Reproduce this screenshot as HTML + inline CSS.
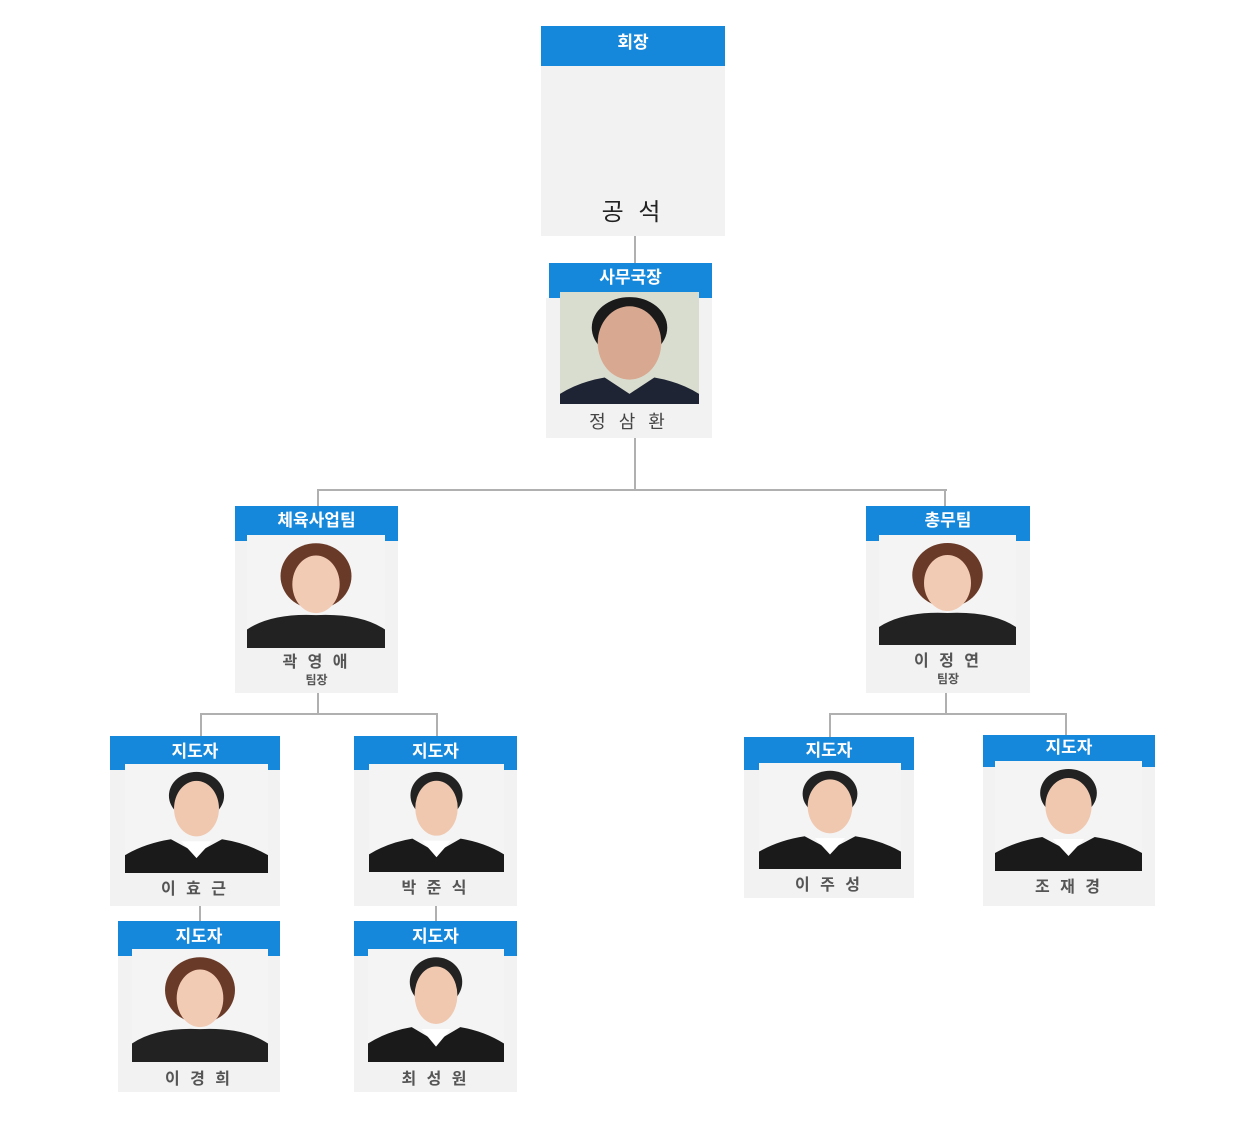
<!DOCTYPE html>
<html><head><meta charset="utf-8"><style>
body{margin:0;width:1258px;height:1125px;background:#fff;position:relative;overflow:hidden;font-family:"Liberation Sans","Noto Sans CJK KR",sans-serif}
.a{position:absolute;line-height:1}
.box{position:absolute;background:#f2f2f2}
.hd{position:absolute;background:#1588dc;color:#fff;font-weight:bold;font-size:17px;line-height:1;text-align:center;box-sizing:border-box;padding-top:7px}
.ln{position:absolute;background:#b0b0b0}
.ph{position:absolute}
.nm{position:absolute;text-align:center;color:#555;font-weight:bold;font-size:16px;line-height:1;letter-spacing:3px}
.tm{position:absolute;text-align:center;color:#555;font-weight:bold;font-size:12px;line-height:1}
</style></head><body>
<svg width="0" height="0" style="position:absolute">
<defs>
<symbol id="m" viewBox="0 0 140 110" preserveAspectRatio="none">
<rect width="140" height="110" fill="#f4f4f4"/>
<ellipse cx="70" cy="32" rx="27" ry="24" fill="#222"/>
<ellipse cx="70" cy="45" rx="22" ry="28" fill="#f0c8b0"/>
<path d="M0 110 L0 92 Q20 80 45 76 L70 90 L95 76 Q120 80 140 92 L140 110Z" fill="#1a1a1a"/>
<path d="M55 78 L70 95 L85 78Z" fill="#fff"/>
</symbol>
<symbol id="w" viewBox="0 0 140 110" preserveAspectRatio="none">
<rect width="140" height="110" fill="#f4f4f4"/>
<ellipse cx="70" cy="40" rx="36" ry="32" fill="#6a3a28"/>
<ellipse cx="70" cy="48" rx="24" ry="28" fill="#f2cbb5"/>
<path d="M0 110 L0 92 Q25 76 70 78 Q115 76 140 92 L140 110Z" fill="#222"/>
</symbol>
<symbol id="o" viewBox="0 0 140 110" preserveAspectRatio="none">
<rect width="140" height="110" fill="#d9ddd0"/>
<ellipse cx="70" cy="35" rx="38" ry="30" fill="#1a1a1a"/>
<ellipse cx="70" cy="50" rx="32" ry="36" fill="#d8a890"/>
<path d="M0 110 L0 100 Q20 88 45 84 L70 100 L95 84 Q120 88 140 100 L140 110Z" fill="#1e2433"/>
</symbol>
</defs></svg>

<div class="ln" style="left:634px;top:236px;width:2px;height:27px"></div>
<div class="ln" style="left:634px;top:438px;width:2px;height:52px"></div>
<div class="ln" style="left:317px;top:489px;width:630px;height:2px"></div>
<div class="ln" style="left:317px;top:489px;width:2px;height:17px"></div>
<div class="ln" style="left:944px;top:489px;width:2px;height:17px"></div>
<div class="ln" style="left:317px;top:693px;width:2px;height:21px"></div>
<div class="ln" style="left:200px;top:713px;width:238px;height:2px"></div>
<div class="ln" style="left:200px;top:713px;width:2px;height:23px"></div>
<div class="ln" style="left:436px;top:713px;width:2px;height:23px"></div>
<div class="ln" style="left:199px;top:906px;width:2px;height:15px"></div>
<div class="ln" style="left:435px;top:906px;width:2px;height:15px"></div>
<div class="ln" style="left:945px;top:693px;width:2px;height:21px"></div>
<div class="ln" style="left:829px;top:713px;width:238px;height:2px"></div>
<div class="ln" style="left:829px;top:713px;width:2px;height:24px"></div>
<div class="ln" style="left:1065px;top:713px;width:2px;height:22px"></div>

<div class="box" style="left:541px;top:26px;width:184px;height:210px"></div>
<div class="hd" style="left:541px;top:26px;width:184px;height:40px;padding-top:8px">회장</div>
<div class="a" style="left:541px;top:201px;width:184px;text-align:center;font-size:24px;color:#222;letter-spacing:4px">공 석</div>

<div class="box" style="left:546px;top:298px;width:166px;height:140px"></div>
<div class="hd" style="left:549px;top:263px;width:163px;height:35px;padding-top:6px">사무국장</div>
<svg class="ph" style="left:560px;top:292px" width="139" height="112"><use href="#o" width="139" height="112"/></svg>
<div class="nm" style="left:546px;top:413px;width:166px;font-weight:normal;font-size:18px;color:#444;letter-spacing:4px">정 삼 환</div>

<div class="box" style="left:235px;top:541px;width:163px;height:152px"></div>
<div class="hd" style="left:235px;top:506px;width:163px;height:35px;padding-top:6px">체육사업팀</div>
<svg class="ph" style="left:247px;top:535px" width="138" height="113"><use href="#w" width="138" height="113"/></svg>
<div class="nm" style="left:235px;top:655px;width:163px">곽 영 애</div>
<div class="tm" style="left:235px;top:674px;width:163px">팀장</div>

<div class="box" style="left:866px;top:541px;width:164px;height:152px"></div>
<div class="hd" style="left:866px;top:506px;width:164px;height:35px;padding-top:6px">총무팀</div>
<svg class="ph" style="left:879px;top:535px" width="137" height="110"><use href="#w" width="137" height="110"/></svg>
<div class="nm" style="left:866px;top:654px;width:164px">이 정 연</div>
<div class="tm" style="left:866px;top:673px;width:164px">팀장</div>

<div class="box" style="left:110px;top:770px;width:170px;height:136px"></div>
<div class="hd" style="left:110px;top:736px;width:170px;height:34px">지도자</div>
<svg class="ph" style="left:125px;top:764px" width="143" height="109"><use href="#m" width="143" height="109"/></svg>
<div class="nm" style="left:110px;top:882px;width:170px">이 효 근</div>

<div class="box" style="left:354px;top:770px;width:163px;height:136px"></div>
<div class="hd" style="left:354px;top:736px;width:163px;height:34px">지도자</div>
<svg class="ph" style="left:369px;top:764px" width="135" height="108"><use href="#m" width="135" height="108"/></svg>
<div class="nm" style="left:354px;top:881px;width:163px">박 준 식</div>

<div class="box" style="left:118px;top:956px;width:162px;height:136px"></div>
<div class="hd" style="left:118px;top:921px;width:162px;height:35px">지도자</div>
<svg class="ph" style="left:132px;top:949px" width="136" height="113"><use href="#w" width="136" height="113"/></svg>
<div class="nm" style="left:118px;top:1072px;width:162px">이 경 희</div>

<div class="box" style="left:354px;top:956px;width:163px;height:136px"></div>
<div class="hd" style="left:354px;top:921px;width:163px;height:35px">지도자</div>
<svg class="ph" style="left:368px;top:949px" width="136" height="113"><use href="#m" width="136" height="113"/></svg>
<div class="nm" style="left:354px;top:1072px;width:163px">최 성 원</div>

<div class="box" style="left:744px;top:770px;width:170px;height:128px"></div>
<div class="hd" style="left:744px;top:737px;width:170px;height:33px;padding-top:5px">지도자</div>
<svg class="ph" style="left:759px;top:763px" width="142" height="106"><use href="#m" width="142" height="106"/></svg>
<div class="nm" style="left:744px;top:878px;width:170px">이 주 성</div>

<div class="box" style="left:983px;top:767px;width:172px;height:139px"></div>
<div class="hd" style="left:983px;top:735px;width:172px;height:32px;padding-top:4px">지도자</div>
<svg class="ph" style="left:995px;top:761px" width="147" height="110"><use href="#m" width="147" height="110"/></svg>
<div class="nm" style="left:983px;top:880px;width:172px">조 재 경</div>
</body></html>
